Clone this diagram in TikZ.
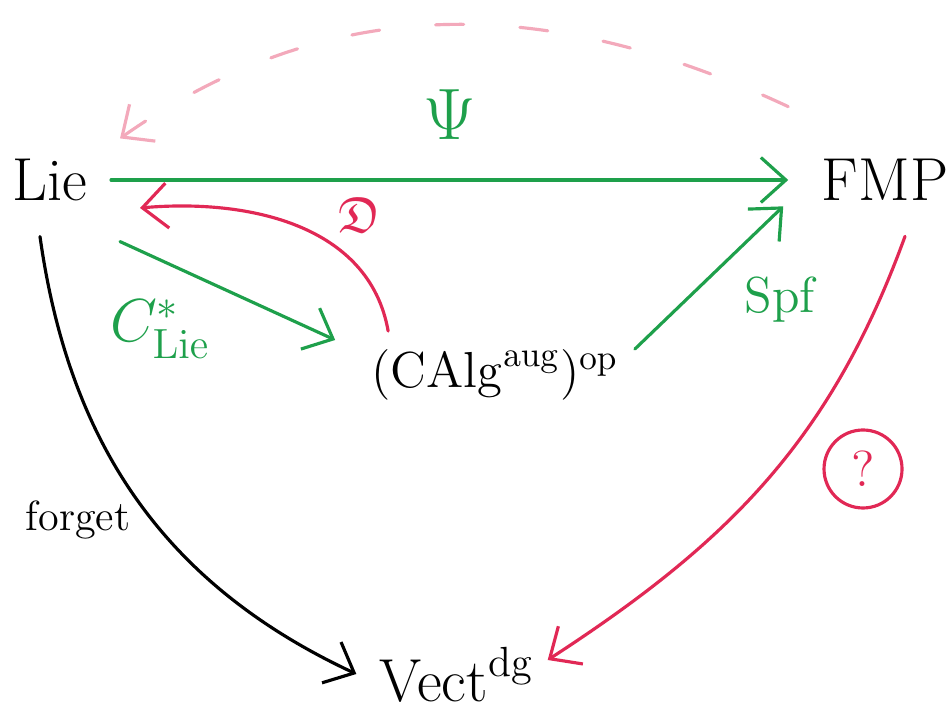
\documentclass[tikz,border=0pt]{standalone}
\usepackage{xcolor}
\usepackage{amsmath}
\usepackage{amssymb}
\usepackage{tikz}
\usetikzlibrary{arrows.meta, positioning}
\definecolor{greenink}{RGB}{30,160,75}
\definecolor{redink}{RGB}{225,40,85}
\colorlet{dashink}{redink!40}

\begin{document}
\begin{tikzpicture}[>={Straight Barb[length=2.5mm,width=4.5mm]}, line width=0.9pt, line cap=round,
    obj/.style={inner sep=2pt, font=\LARGE}]
    \useasboundingbox (0,0) rectangle (9.51,7.14);
    \node[obj] (lie) at (0.5, 5.34) {Lie};
    \node[obj] (fmp) at (8.85, 5.34) {FMP};
    \node[obj, font=\Large] (calg) at (4.95, 3.39) {$(\mathrm{CAlg}^{\mathrm{aug}})^{\mathrm{op}}$};
    \node[obj] (vect) at (4.57, 0.4) {$\mathrm{Vect}^{\mathrm{dg}}$};

    \node[text=greenink, font=\huge] (psi) at (4.5, 5.99) {$\Psi$};
    \node[text=redink, font=\Large] (dlab) at (3.6, 4.99) {$\mathfrak{D}$};
    \node[text=greenink, font=\LARGE] (cstar) at (1.6, 3.85) {$C^{*}_{\mathrm{Lie}}$};
    \node[text=greenink, font=\Large] (spf) at (7.8, 4.14) {Spf};
    \node[font=\large] (forget) at (0.78, 1.94) {forget};
    \node[draw=redink, text=redink, circle, minimum size=0.78cm, inner sep=0pt, font=\Large] (query) at (8.63, 2.45) {?};

    \draw[->, greenink] ([xshift=0.15cm]lie.east) -- ([xshift=-0.25cm]fmp.west);
    \draw[->, greenink] ([shift={(0.24,-0.32)}]lie.south east) -- ([shift={(-0.28,0.35)}]calg.west);
    \draw[->, redink] ([shift={(0.25,0.1)}]calg.north west) to[out=100, in=5] ([shift={(0.44,-0.28)}]lie.east);
    \draw[->, greenink] ([shift={(0.08,-0.08)}]calg.north east) -- ([shift={(-0.3,0.03)}]fmp.south west);
    \draw[->] ([shift={(-0.1,-0.27)}]lie.south) to[out=-82, in=155] ([xshift=-0.15cm]vect.west);
    \draw[->, redink] ([shift={(0.2,-0.27)}]fmp.south) to[out=-110, in=33] ([shift={(0.05,0.14)}]vect.east);
    \draw[->, dashink, dash pattern=on 8pt off 16pt] ([shift={(-0.25,0.44)}]fmp.north west) to[out=155, in=35] ([shift={(0.24,0.12)}]lie.north east);
\end{tikzpicture}
\end{document}
